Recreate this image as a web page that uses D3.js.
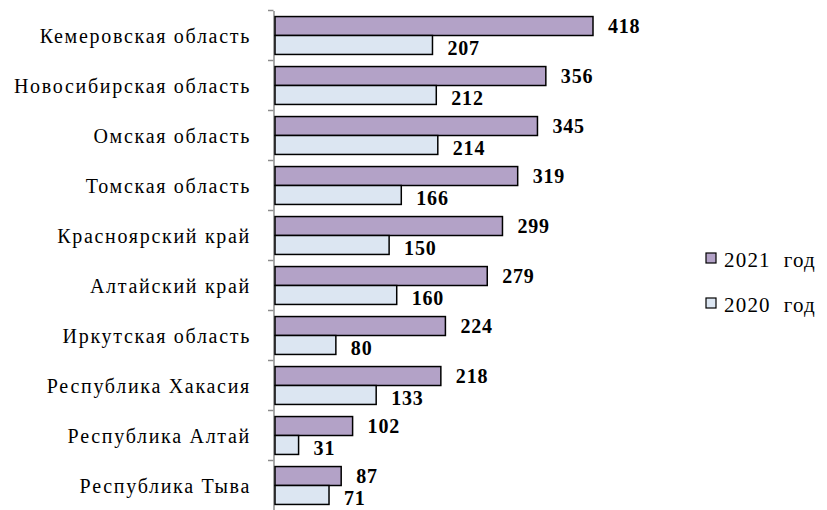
<!DOCTYPE html>
<html>
<head>
<meta charset="utf-8">
<script src="https://cdn.jsdelivr.net/npm/d3@7"></script>
<style>
  body { margin: 0; background: #fff; }
  text { font-family: "Liberation Serif", "Times New Roman", serif; }
</style>
</head>
<body>
<svg width="827" height="510"></svg>
<script>
// data
var regions = ['Кемеровская область', 'Новосибирская область', 'Омская область', 'Томская область',
  'Красноярский край', 'Алтайский край', 'Иркутская область', 'Республика Хакасия',
  'Республика Алтай', 'Республика Тыва'];
var values2021 = [418, 356, 345, 319, 299, 279, 224, 218, 102, 87];
var values2020 = [207, 212, 214, 166, 150, 160, 80, 133, 31, 71];
var seriesNames = ['2021  год', '2020  год'];
var seriesColors = ['#b3a2c7', '#dce6f2'];

var FONT = '"Liberation Serif", "Times New Roman", serif';

var svg = d3.select('svg');

var x = d3.scaleLinear().domain([0, 418]).range([275, 593]);
var y = d3.scaleBand().domain(regions).range([10.5, 510.5]).paddingInner(0).paddingOuter(0);
var inner = d3.scaleBand().domain([0, 1]).range([0, y.bandwidth()]).paddingOuter(0.32).paddingInner(0);

// axis
var axis = d3.axisLeft(y).tickSize(0).tickFormat('');
var ag = svg.append('g').attr('transform', 'translate(273.5,0)').call(axis);
ag.select('.domain').attr('stroke', '#8c8c8c').attr('stroke-width', 1.5);
// tick marks between categories
var bounds = regions.map(function (d) { return y(d); });
svg.selectAll('line.tk').data(bounds).enter().append('line')
  .attr('class', 'tk')
  .attr('x1', 268).attr('x2', 273.5)
  .attr('y1', function (d) { return d; }).attr('y2', function (d) { return d; })
  .attr('stroke', '#8c8c8c').attr('stroke-width', 1.5);

// category labels
svg.selectAll('text.cat').data(regions).enter().append('text')
  .attr('class', 'cat')
  .attr('x', 251)
  .attr('y', function (d) { return y(d) + y.bandwidth() / 2 + 7; })
  .attr('text-anchor', 'end')
  .style('font-family', FONT)
  .style('font-size', '20px')
  .style('letter-spacing', '1.7px')
  .text(function (d) { return d; });

var series = [values2021, values2020];
series.forEach(function (vals, si) {
  var g = svg.append('g');
  g.selectAll('rect').data(vals).enter().append('rect')
    .attr('x', x(0))
    .attr('y', function (d, i) { return y(regions[i]) + inner(si); })
    .attr('width', function (d) { return x(d) - x(0); })
    .attr('height', inner.bandwidth())
    .attr('fill', seriesColors[si])
    .attr('stroke', '#000')
    .attr('stroke-width', 1.5);
  g.selectAll('text').data(vals).enter().append('text')
    .attr('x', function (d) { return x(d) + 15; })
    .attr('y', function (d, i) { return y(regions[i]) + inner(si) + inner.bandwidth() / 2 + 7 + si * 3; })
    .style('font-family', FONT)
    .style('font-size', '20px')
    .style('font-weight', 'bold')
    .style('letter-spacing', '0.8px')
    .text(function (d) { return d; });
});

// legend
var legend = svg.append('g');
seriesNames.forEach(function (name, i) {
  var ly = 253 + i * 45;
  legend.append('rect')
    .attr('x', 706).attr('y', ly).attr('width', 10).attr('height', 10)
    .attr('fill', seriesColors[i]).attr('stroke', '#000').attr('stroke-width', 1.2);
  legend.append('text')
    .attr('x', 724).attr('y', ly + 14)
    .style('font-family', FONT)
    .style('font-size', '21px')
    .style('letter-spacing', '1.2px')
    .style('white-space', 'pre')
    .text(name);
});
</script>
</body>
</html>
